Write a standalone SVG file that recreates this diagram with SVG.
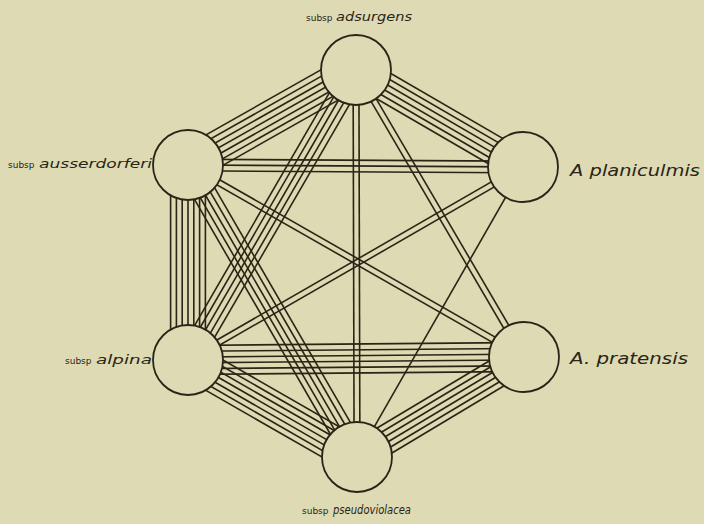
<svg xmlns="http://www.w3.org/2000/svg" width="704" height="524" viewBox="0 0 704 524">
<style>
.bg{fill:#dddab4}
.e line{stroke:#2a2417;stroke-width:1.6;fill:none}
.n circle{fill:#dddab4;stroke:#2a2417;stroke-width:1.8}
.s{font-family:"DejaVu Sans",sans-serif;font-size:9px;fill:#2a2417}
.i{font-family:"DejaVu Sans",sans-serif;font-style:italic;font-size:12.5px;fill:#2a2417}
.b{font-family:"DejaVu Sans",sans-serif;font-style:italic;font-size:16px;fill:#2a2417}
</style>
<rect class="bg" x="0" y="0" width="704" height="524"/>
<g id="connectors" class="e">
  <g transform="translate(356,70) rotate(150.51)">
    <line x1="0" y1="-17.4" x2="193" y2="-17.4"/><line x1="0" y1="-11.6" x2="193" y2="-11.6"/><line x1="0" y1="-5.8" x2="193" y2="-5.8"/><line x1="0" y1="0" x2="193" y2="0"/><line x1="0" y1="5.8" x2="193" y2="5.8"/><line x1="0" y1="11.6" x2="193" y2="11.6"/><line x1="0" y1="17.4" x2="193" y2="17.4"/>
  </g>
  <g transform="translate(356,70) rotate(30.15)">
    <line x1="0" y1="-14.5" x2="193" y2="-14.5"/><line x1="0" y1="-8.7" x2="193" y2="-8.7"/><line x1="0" y1="-2.9" x2="193" y2="-2.9"/><line x1="0" y1="2.9" x2="193" y2="2.9"/><line x1="0" y1="8.7" x2="193" y2="8.7"/><line x1="0" y1="14.5" x2="193" y2="14.5"/>
  </g>
  <g transform="translate(188,165) rotate(90)">
    <line x1="0" y1="-17.4" x2="195" y2="-17.4"/><line x1="0" y1="-11.6" x2="195" y2="-11.6"/><line x1="0" y1="-5.8" x2="195" y2="-5.8"/><line x1="0" y1="0" x2="195" y2="0"/><line x1="0" y1="5.8" x2="195" y2="5.8"/><line x1="0" y1="11.6" x2="195" y2="11.6"/><line x1="0" y1="17.4" x2="195" y2="17.4"/>
  </g>
  <g transform="translate(188,360) rotate(29.86)">
    <line x1="0" y1="-17.4" x2="195" y2="-17.4"/><line x1="0" y1="-11.6" x2="195" y2="-11.6"/><line x1="0" y1="-5.8" x2="195" y2="-5.8"/><line x1="0" y1="0" x2="195" y2="0"/><line x1="0" y1="5.8" x2="195" y2="5.8"/><line x1="0" y1="11.6" x2="195" y2="11.6"/><line x1="0" y1="17.4" x2="195" y2="17.4"/>
  </g>
  <g transform="translate(357,457) rotate(-30.91)">
    <line x1="0" y1="-14.5" x2="195" y2="-14.5"/><line x1="0" y1="-8.7" x2="195" y2="-8.7"/><line x1="0" y1="-2.9" x2="195" y2="-2.9"/><line x1="0" y1="2.9" x2="195" y2="2.9"/><line x1="0" y1="8.7" x2="195" y2="8.7"/><line x1="0" y1="14.5" x2="195" y2="14.5"/>
  </g>
  <g transform="translate(188,165) rotate(0.34)">
    <line x1="0" y1="-5.8" x2="335" y2="-5.8"/><line x1="0" y1="0" x2="335" y2="0"/><line x1="0" y1="5.8" x2="335" y2="5.8"/>
  </g>
  <g transform="translate(188,360) rotate(-0.51)">
    <line x1="0" y1="-14.5" x2="336" y2="-14.5"/><line x1="0" y1="-8.7" x2="336" y2="-8.7"/><line x1="0" y1="-2.9" x2="336" y2="-2.9"/><line x1="0" y1="2.9" x2="336" y2="2.9"/><line x1="0" y1="8.7" x2="336" y2="8.7"/><line x1="0" y1="14.5" x2="336" y2="14.5"/>
  </g>
  <g transform="translate(356,70) rotate(89.85)">
    <line x1="0" y1="-2.9" x2="387" y2="-2.9"/><line x1="0" y1="2.9" x2="387" y2="2.9"/>
  </g>
  <g transform="translate(356,70) rotate(120.08)">
    <line x1="0" y1="-11.6" x2="335" y2="-11.6"/><line x1="0" y1="-5.8" x2="335" y2="-5.8"/><line x1="0" y1="0" x2="335" y2="0"/><line x1="0" y1="5.8" x2="335" y2="5.8"/><line x1="0" y1="11.6" x2="335" y2="11.6"/>
  </g>
  <g transform="translate(356,70) rotate(59.66)">
    <line x1="0" y1="-2.9" x2="333" y2="-2.9"/><line x1="0" y1="2.9" x2="333" y2="2.9"/>
  </g>
  <g transform="translate(188,165) rotate(59.94)">
    <line x1="0" y1="-11.6" x2="337" y2="-11.6"/><line x1="0" y1="-5.8" x2="337" y2="-5.8"/><line x1="0" y1="0" x2="337" y2="0"/><line x1="0" y1="5.8" x2="337" y2="5.8"/><line x1="0" y1="11.6" x2="337" y2="11.6"/>
  </g>
  <g transform="translate(188,165) rotate(29.74)">
    <line x1="0" y1="-2.9" x2="387" y2="-2.9"/><line x1="0" y1="2.9" x2="387" y2="2.9"/>
  </g>
  <g transform="translate(188,360) rotate(-29.94)">
    <line x1="0" y1="-2.9" x2="387" y2="-2.9"/><line x1="0" y1="2.9" x2="387" y2="2.9"/>
  </g>
  <g transform="translate(523,167) rotate(119.79)">
    <line x1="0" y1="0" x2="334" y2="0"/>
  </g>
</g>
<g id="node-adsurgens" class="n">
  <circle cx="356" cy="70" r="35"/>
  <text class="s" x="306" y="21">subsp</text>
  <text class="i" x="336" y="21" textLength="76" lengthAdjust="spacingAndGlyphs">adsurgens</text>
</g>
<g id="node-ausserdorferi" class="n">
  <circle cx="188" cy="165" r="35"/>
  <text class="s" x="8" y="168">subsp</text>
  <text class="i" x="39" y="168" textLength="113" lengthAdjust="spacingAndGlyphs">ausserdorferi</text>
</g>
<g id="node-planiculmis" class="n">
  <circle cx="523" cy="167" r="35"/>
  <text class="b" x="570" y="176" textLength="130" lengthAdjust="spacingAndGlyphs">A planiculmis</text>
</g>
<g id="node-alpina" class="n">
  <circle cx="188" cy="360" r="35"/>
  <text class="s" x="65" y="364">subsp</text>
  <text class="i" x="96" y="364" textLength="56" lengthAdjust="spacingAndGlyphs">alpina</text>
</g>
<g id="node-pratensis" class="n">
  <circle cx="524" cy="357" r="35"/>
  <text class="b" x="570" y="364" textLength="118" lengthAdjust="spacingAndGlyphs">A. pratensis</text>
</g>
<g id="node-pseudoviolacea" class="n">
  <circle cx="357" cy="457" r="35"/>
  <text class="s" x="302" y="514">subsp</text>
  <text class="i" x="333" y="514" textLength="78" lengthAdjust="spacingAndGlyphs">pseudoviolacea</text>
</g>
</svg>
